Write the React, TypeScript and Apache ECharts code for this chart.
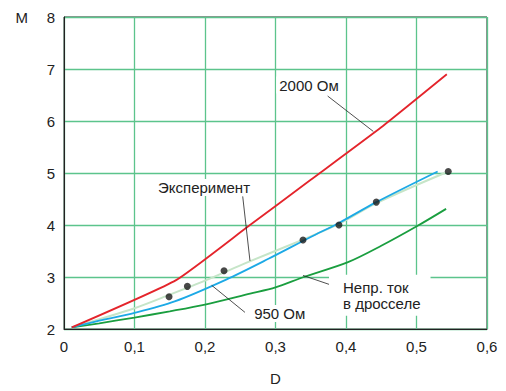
import React, { useEffect, useRef } from "react";
import * as echarts from "echarts";

const xTicks = [0, 0.1, 0.2, 0.3, 0.4, 0.5, 0.6];
const yTicks = [2, 3, 4, 5, 6, 7, 8];

const red2000: [number, number][] = [
  [0.011, 2.03], [0.159, 2.94], [0.26, 3.96], [0.35, 4.87], [0.45, 5.88], [0.543, 6.9],
];
const blue950: [number, number][] = [
  [0.011, 2.03], [0.05, 2.16], [0.1, 2.31], [0.157, 2.53], [0.23, 2.95], [0.29, 3.35],
  [0.35, 3.77], [0.39, 4.04], [0.443, 4.44], [0.53, 5.03],
];
const experimentLine: [number, number][] = [
  [0.011, 2.03], [0.1, 2.4], [0.15, 2.66], [0.2, 2.93], [0.26, 3.28], [0.339, 3.72],
  [0.39, 4.02], [0.443, 4.42], [0.54, 5.0],
];
const greenCont: [number, number][] = [
  [0.011, 2.03], [0.05, 2.11], [0.1, 2.22], [0.15, 2.34], [0.2, 2.47], [0.264, 2.68],
  [0.3, 2.8], [0.34, 3.0], [0.402, 3.28], [0.45, 3.6], [0.501, 3.98], [0.542, 4.31],
];
const experimentDots: [number, number][] = [
  [0.149, 2.62], [0.175, 2.82], [0.227, 3.12], [0.339, 3.71], [0.39, 4.0], [0.443, 4.44], [0.545, 5.03],
];

const FONT = "Liberation Sans, Arial, sans-serif";
const FS = 15;
const fmt = (v: number) => String(v).replace(".", ",");

export default function App() {
  const ref = useRef<HTMLDivElement>(null);
  useEffect(() => {
    const chart = echarts.init(ref.current!, null, { renderer: "svg" });
    const labelStyle = {
      show: true,
      color: "#222",
      fontSize: FS,
      fontFamily: FONT,
      backgroundColor: "#fff",
      padding: [1, 3],
      position: "inside",
    };
    const leader = (a: [number, number], b: [number, number]) => [
      { coord: a, symbol: "none" },
      { coord: b, symbol: "none" },
    ];
    chart.setOption({
      animation: false,
      backgroundColor: "#fff",
      grid: { left: 64, right: 19, top: 17, bottom: 59, show: true, borderColor: "#222", borderWidth: 1 },
      xAxis: {
        type: "value",
        min: 0,
        max: 0.6,
        interval: 0.1,
        name: "D",
        nameLocation: "middle",
        nameGap: 42,
        nameTextStyle: { fontSize: FS, color: "#222", fontFamily: FONT },
        axisLine: { show: true, lineStyle: { color: "#222" } },
        axisTick: { show: false },
        axisLabel: { fontSize: FS, color: "#222", fontFamily: FONT, margin: 10, formatter: (v: number) => fmt(Math.round(v * 10) / 10) },
        splitLine: { show: true, lineStyle: { color: "#5cc48c", width: 1.3 } },
      },
      yAxis: {
        type: "value",
        min: 2,
        max: 8,
        interval: 1,
        name: "M",
        nameLocation: "end",
        nameGap: 0,
        nameTextStyle: { fontSize: FS, color: "#222", fontFamily: FONT, align: "right", verticalAlign: "middle", padding: [0, 36, 12, 0] },
        axisLine: { show: true, lineStyle: { color: "#222" } },
        axisTick: { show: false },
        axisLabel: { fontSize: FS, color: "#222", fontFamily: FONT, margin: 9 },
        splitLine: { show: true, lineStyle: { color: "#5cc48c", width: 1.3 } },
      },
      series: [
        {
          type: "line",
          data: experimentLine,
          showSymbol: false,
          smooth: 0.3,
          lineStyle: { color: "#c6e5c8", width: 2 },
          z: 2,
        },
        {
          type: "line",
          data: greenCont,
          showSymbol: false,
          smooth: 0.3,
          lineStyle: { color: "#1a9e3f", width: 1.8 },
          z: 3,
        },
        {
          type: "line",
          data: blue950,
          showSymbol: false,
          smooth: 0.3,
          lineStyle: { color: "#1ca9e6", width: 1.8 },
          z: 3,
        },
        {
          type: "line",
          data: red2000,
          showSymbol: false,
          smooth: 0.15,
          lineStyle: { color: "#e4242b", width: 1.8 },
          z: 3,
          markLine: {
            silent: true,
            symbol: "none",
            label: { show: false },
            lineStyle: { color: "#222", width: 0.8, type: "solid" },
            data: [
              leader([0.374, 6.48], [0.4387, 5.8]),
              leader([0.2535, 4.55], [0.2638, 3.31]),
              leader([0.2567, 2.32], [0.2095, 2.84]),
              leader([0.38, 2.84], [0.339, 3.03]),
            ],
          },
          markPoint: {
            silent: true,
            symbol: "circle",
            symbolSize: 0,
            data: [
              { coord: [0.3475, 6.69], label: { ...labelStyle, formatter: "2000 Ом" } },
              { coord: [0.1986, 4.72], label: { ...labelStyle, formatter: "Эксперимент" } },
              { coord: [0.306, 2.3], label: { ...labelStyle, formatter: "950 Ом" } },
              { coord: [0.4525, 2.65], label: { ...labelStyle, align: "left", padding: [5, 10, 4, 14], offset: [-54, 0], formatter: "Непр. ток\nв дросселе", lineHeight: 16 } },
            ],
          },
        },
        {
          type: "scatter",
          data: experimentDots,
          symbol: "circle",
          symbolSize: 7,
          itemStyle: { color: "#1a1a1a" },
          z: 5,
        },
      ],
    });
    return () => chart.dispose();
  }, []);
  return <div ref={ref} style={{ width: 506, height: 391, position: "absolute", left: 0, top: 0 }} />;
}
